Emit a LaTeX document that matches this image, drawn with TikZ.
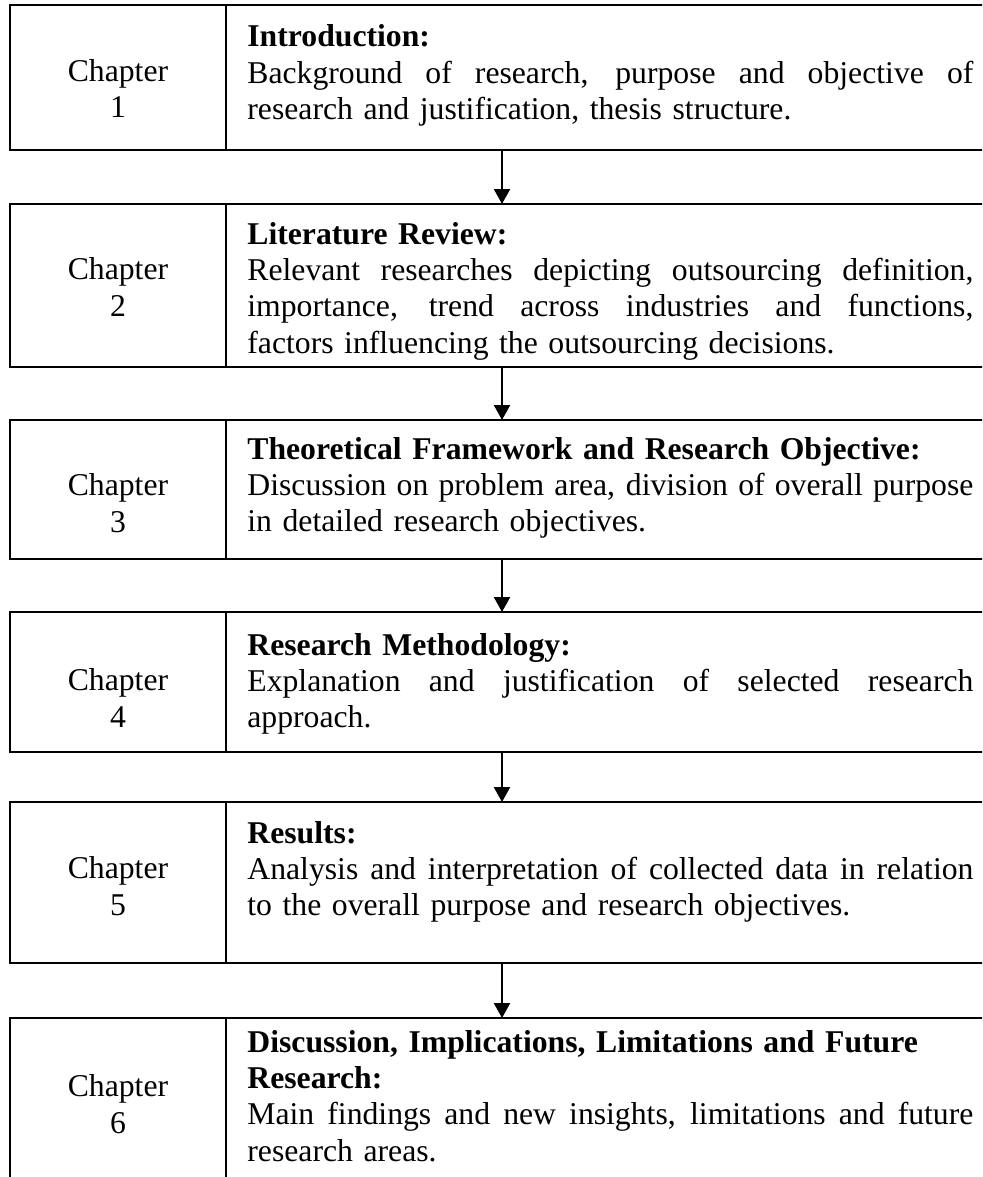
\documentclass[tikz,border=0pt]{standalone}
\usepackage{fontspec}
\setmainfont{Liberation Serif}
\usetikzlibrary{arrows.meta}
\newcommand{\jl}[1]{\leavevmode\hbox to 363pt{\spaceskip=0.25em plus 1fil\relax\xspaceskip=0.25em plus 1fil\relax #1}\\}
\begin{document}
\begin{tikzpicture}[x=0.5pt,y=-0.5pt,
  font=\fontsize{15.85}{18.2}\selectfont,
  box/.style={draw, line width=1.35pt, minimum width=492pt, inner sep=0pt, outer sep=0pt},
  sepline/.style={line width=1.35pt},
  arr/.style={line width=1.15pt, -{Triangle[length=7.5pt,width=8pt]}},
  chap/.style={align=center, anchor=base, inner sep=0pt},
  body/.style={text width=363pt, align=left, anchor=base west, inner sep=0pt}]
\useasboundingbox (0,0) rectangle (982,1177);
\clip (0,0) rectangle (982,1177);
\coordinate (dv) at (226,0);
% boxes
\node[box, minimum height=72.5pt] (b1) at (502,77.5) {};
\node[box, minimum height=81.5pt] (b2) at (502,285.5) {};
\node[box, minimum height=69.5pt] (b3) at (502,489.5) {};
\node[box, minimum height=70pt]   (b4) at (502,682) {};
\node[box, minimum height=80.5pt] (b5) at (502,882.5) {};
\node[box, minimum height=101pt]  (b6) at (502,1119) {};
% dividers
\foreach \b in {b1,b2,b3,b4,b5,b6}
  \draw[sepline] (\b.north -| dv) -- (\b.south -| dv);
% arrows
\draw[arr] (b1.south) -- (b2.north);
\draw[arr] (b2.south) -- (b3.north);
\draw[arr] (b3.south) -- (b4.north);
\draw[arr] (b4.south) -- (b5.north);
\draw[arr] (b5.south) -- (b6.north);
% chapter labels (anchor = baseline of the last line)
\node[chap] (c1) at (118,118)  {Chapter\\1};
\node[chap] (c2) at (118,316)  {Chapter\\2};
\node[chap] (c3) at (118,532)  {Chapter\\3};
\node[chap] (c4) at (118,727)  {Chapter\\4};
\node[chap] (c5) at (118,915)  {Chapter\\5};
\node[chap] (c6) at (118,1133) {Chapter\\6};
% bodies
\node[body] (t1) at (247,47) {\textbf{Introduction:}\\
\jl{Background of research, purpose and objective of}
research and justification, thesis structure.};
\node[body] (t2) at (247,244) {\textbf{Literature Review:}\\
\jl{Relevant researches depicting outsourcing definition,}
\jl{importance, trend across industries and functions,}
factors influencing the outsourcing decisions.};
\node[body] (t3) at (247,459) {\textbf{Theoretical Framework and Research Objective:}\\
\jl{Discussion on problem area, division of overall purpose}
in detailed research objectives.};
\node[body] (t4) at (247,655) {\textbf{Research Methodology:}\\
\jl{Explanation and justification of selected research}
approach.};
\node[body] (t5) at (247,843) {\textbf{Results:}\\
\jl{Analysis and interpretation of collected data in relation}
to the overall purpose and research objectives.};
\node[body] (t6) at (247,1052) {\textbf{Discussion, Implications, Limitations and Future}\\
\textbf{Research:}\\
\jl{Main findings and new insights, limitations and future}
research areas.};
\end{tikzpicture}
\end{document}
